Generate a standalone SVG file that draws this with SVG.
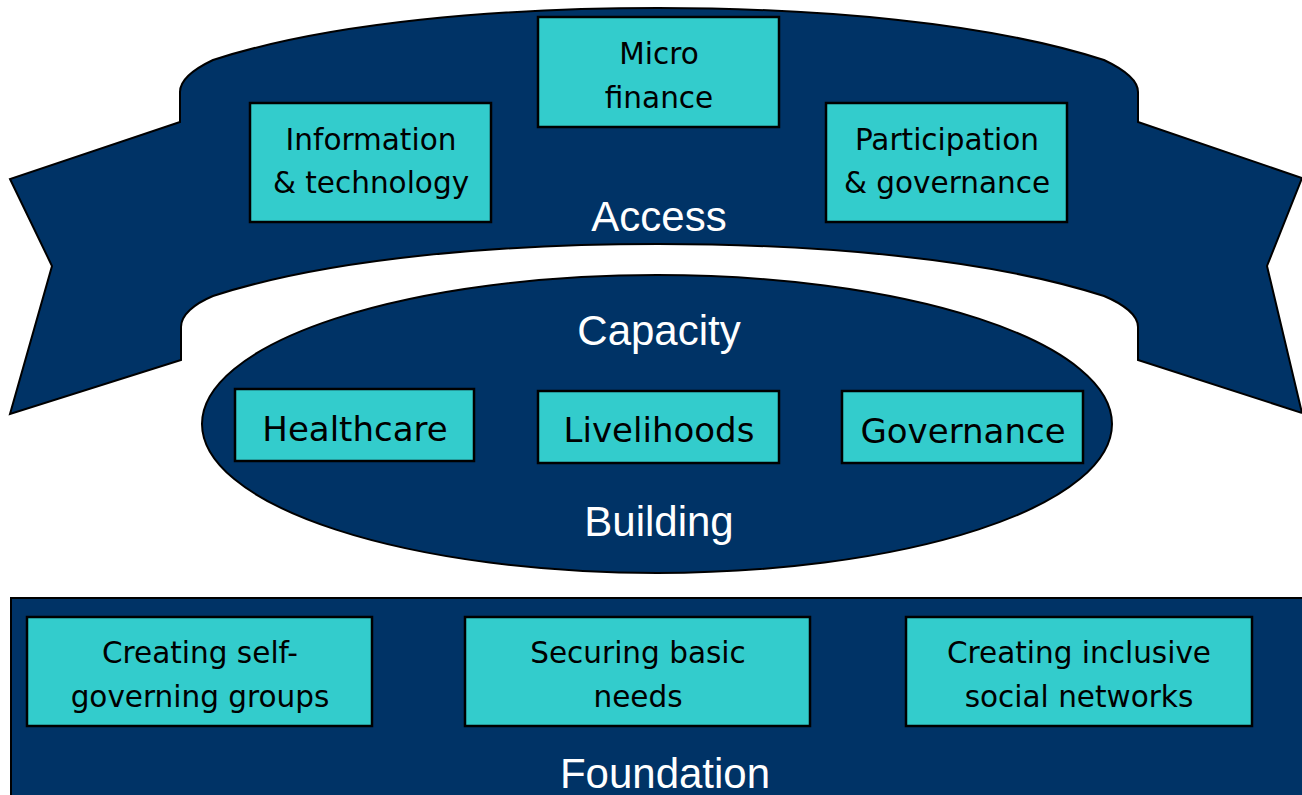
<svg xmlns="http://www.w3.org/2000/svg" width="1302" height="795" viewBox="0 0 1302 795">
<style>
.band{fill:#003366;stroke:#000;stroke-width:2}
.box{fill:#33CCCC;stroke:#000;stroke-width:2.5}
.bt{font-family:"DejaVu Sans",sans-serif;font-size:29.5px;fill:#000;text-anchor:middle}
.mt{font-family:"DejaVu Sans",sans-serif;font-size:34px;fill:#000;text-anchor:middle}
.lab{font-family:"Liberation Sans",Arial,sans-serif;font-size:42px;fill:#fff;text-anchor:middle}
</style>
<rect width="1302" height="795" fill="#fff"/>
<g id="access-ribbon">
<path class="band" d="M180,92 C180,80 194,69 213,60 C330,22 500,8 658,8 C816,8 986,22 1104,60 C1123,69 1138,80 1138,92 L1138,122 L1302,178 L1267,266 L1302,413 L1138,360 L1138,327 C1138,315 1123,304 1104,296 C986,258 816,244 658,244 C500,244 330,258 213,296 C194,304 181,315 181,327 L181,360 L10,414 L52,266 L10,179 L180,122 Z"/>
<text class="lab" x="659" y="231">Access</text>
</g>
<g id="capacity-ellipse">
<ellipse class="band" cx="657" cy="424" rx="455" ry="149"/>
<text class="lab" x="659" y="345">Capacity</text>
<text class="lab" x="659" y="536">Building</text>
</g>
<g id="foundation-base">
<rect class="band" x="11" y="598" width="1300" height="210"/>
<text class="lab" x="665" y="788">Foundation</text>
</g>
<g id="node-info-tech">
<rect class="box" x="250" y="103" width="241" height="119"/>
<text class="bt" x="371" y="150">Information</text>
<text class="bt" x="371" y="193">&amp; technology</text>
</g>
<g id="node-micro-finance">
<rect class="box" x="538" y="17" width="241" height="110"/>
<text class="bt" x="659" y="64">Micro</text>
<text class="bt" x="659" y="108">finance</text>
</g>
<g id="node-participation">
<rect class="box" x="826" y="103" width="241" height="119"/>
<text class="bt" x="947" y="150">Participation</text>
<text class="bt" x="947" y="193">&amp; governance</text>
</g>
<g id="node-healthcare">
<rect class="box" x="235" y="389" width="239" height="72"/>
<text class="mt" x="355" y="441">Healthcare</text>
</g>
<g id="node-livelihoods">
<rect class="box" x="538" y="391" width="241" height="72"/>
<text class="mt" x="659" y="442">Livelihoods</text>
</g>
<g id="node-governance">
<rect class="box" x="842" y="391" width="241" height="72"/>
<text class="mt" x="963" y="443">Governance</text>
</g>
<g id="node-self-governing">
<rect class="box" x="27" y="617" width="345" height="109"/>
<text class="bt" x="200" y="663">Creating self-</text>
<text class="bt" x="200" y="707">governing groups</text>
</g>
<g id="node-basic-needs">
<rect class="box" x="465" y="617" width="345" height="109"/>
<text class="bt" x="638" y="663">Securing basic</text>
<text class="bt" x="638" y="707">needs</text>
</g>
<g id="node-social-networks">
<rect class="box" x="906" y="617" width="346" height="109"/>
<text class="bt" x="1079" y="663">Creating inclusive</text>
<text class="bt" x="1079" y="707">social networks</text>
</g>
<g id="connectors"></g>
</svg>
